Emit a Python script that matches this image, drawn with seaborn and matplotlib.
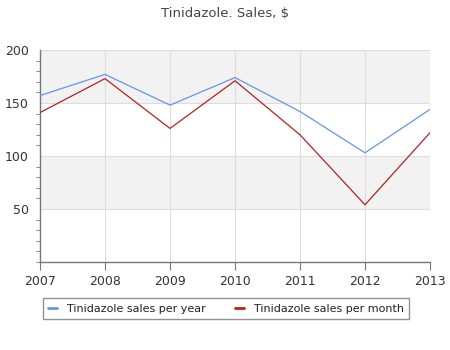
import matplotlib
matplotlib.use("Agg")
import matplotlib.pyplot as plt
import seaborn as sns
import pandas as pd
from matplotlib.ticker import MultipleLocator
from matplotlib.lines import Line2D

years = [2007, 2008, 2009, 2010, 2011, 2012, 2013]
per_year = [157, 177, 148, 174, 142, 103, 144]
per_month = [141, 173, 126, 171, 120, 54, 122]
series_names = ["Tinidazole sales per year", "Tinidazole sales per month"]
colors = ["#6495ED", "#B22222"]

df = pd.DataFrame({
    "year": years * 2,
    "value": per_year + per_month,
    "series": [series_names[0]] * len(years) + [series_names[1]] * len(years),
})

sns.set_style("white")
plt.rcParams["font.family"] = ["DejaVu Sans"]

fig = plt.figure(figsize=(4.5, 3.5), dpi=100)
ax = fig.add_axes([0.0889, 0.2514, 0.8667, 0.6057])

for lo, hi, c in [(0, 50, "white"), (50, 100, "#f2f2f2"), (100, 150, "white"), (150, 200, "#f2f2f2")]:
    ax.axhspan(lo, hi, color=c, zorder=0, lw=0)
for y in [50, 100, 150, 200]:
    ax.axhline(y, color="#dddddd", lw=0.8, zorder=0.5)
for x in years:
    ax.axvline(x, color="#dddddd", lw=0.8, zorder=0.5)

sns.lineplot(data=df, x="year", y="value", hue="series", palette=colors,
             ax=ax, lw=0.9, legend=False, zorder=3)

ax.set_xlim(2007, 2013)
ax.set_ylim(0, 200)
ax.set_xticks(years)
ax.set_xticklabels([str(y) for y in years])
ax.set_yticks([50, 100, 150, 200])
ax.yaxis.set_minor_locator(MultipleLocator(10))
ax.tick_params(axis="y", which="major", length=6, color="#777777", labelsize=9, labelcolor="#333333", pad=2)
ax.tick_params(axis="y", which="minor", length=3, color="#777777", left=True)
ax.tick_params(axis="x", length=6, color="#777777", labelsize=9, labelcolor="#333333", bottom=True)
ax.set_xlabel("")
ax.set_ylabel("")
for s in ["top", "right"]:
    ax.spines[s].set_visible(False)
for s in ["left", "bottom"]:
    ax.spines[s].set_color("#777777")
    ax.spines[s].set_linewidth(1)

fig.suptitle("Tinidazole. Sales, $", y=0.98, fontsize=9.5, color="#444444")

handles = [Line2D([0], [0], color=c, lw=2) for c in colors]
leg = fig.legend(handles, series_names, loc="center", bbox_to_anchor=(0.502, 0.118),
                 ncol=2, frameon=True, fancybox=False, fontsize=8, handlelength=0.8,
                 columnspacing=2.6, borderpad=0.5, handletextpad=0.9)
leg.get_frame().set_edgecolor("#777777")
leg.get_frame().set_linewidth(1)
for t in leg.get_texts():
    t.set_color("#222222")

fig.savefig("out.png", dpi=100)
